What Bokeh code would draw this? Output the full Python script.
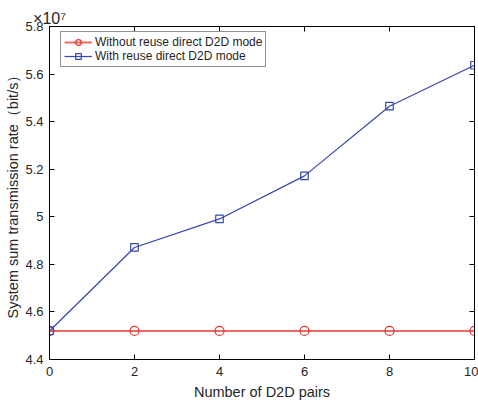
from bokeh.plotting import figure
from bokeh.models import (LinearAxis, FixedTicker, CustomJSTickFormatter, Range1d, Legend, LegendItem)
from bokeh.embed import file_html
from bokeh.resources import INLINE

pairs = [0, 2, 4, 6, 8, 10]
without_reuse = [4.52, 4.52, 4.52, 4.52, 4.52, 4.52]
with_reuse = [4.52, 4.871, 4.991, 5.172, 5.465, 5.637]
x_ticks = [0, 2, 4, 6, 8, 10]
y_ticks = [4.4, 4.6, 4.8, 5.0, 5.2, 5.4, 5.6, 5.8]
exponent_text = "\u00d710\u2077"

FONT = "Liberation Sans"
TXT = "#262626"

p = figure(frame_width=425, frame_height=333, output_backend="svg", toolbar_location=None,
           x_range=Range1d(0, 10), y_range=Range1d(4.4, 5.8),
           min_border_left=49, min_border_right=4, min_border_top=26, min_border_bottom=41)
p.grid.visible = False
p.outline_line_color = "black"
p.outline_line_width = 1

fmt = CustomJSTickFormatter(code="var s = tick.toFixed(1); return s.replace(/\\.0$/, '');")
blank = CustomJSTickFormatter(code="return '';")

for ax in (p.xaxis[0], p.yaxis[0]):
    ax.major_tick_in = 5
    ax.major_tick_out = 0
    ax.minor_tick_line_color = None
    ax.axis_line_color = "black"
    ax.major_tick_line_color = "black"
    ax.major_label_text_font = FONT
    ax.major_label_text_font_size = "13px"
    ax.major_label_text_color = TXT
    ax.axis_label_text_font = FONT
    ax.axis_label_text_font_size = "14.5px"
    ax.axis_label_text_font_style = "normal"
    ax.axis_label_text_color = TXT

p.xaxis[0].ticker = FixedTicker(ticks=x_ticks)
p.yaxis[0].ticker = FixedTicker(ticks=y_ticks)
p.yaxis[0].formatter = fmt
p.xaxis[0].axis_label = "Number of D2D pairs"
p.yaxis[0].axis_label = "System sum transmission rate\uff08bit/s\uff09"
p.xaxis[0].major_label_standoff = 7
p.xaxis[0].axis_label_standoff = 5
p.yaxis[0].major_label_standoff = 6
p.yaxis[0].axis_label_standoff = 1

top = LinearAxis(ticker=FixedTicker(ticks=x_ticks), formatter=blank, major_tick_in=5, major_tick_out=0,
                 minor_tick_line_color=None, major_label_standoff=0, axis_line_color="black",
                 axis_label=exponent_text, axis_label_align="start", axis_label_standoff=0,
                 axis_label_text_align="left",
                 axis_label_text_font=FONT, axis_label_text_font_size="16px",
                 axis_label_text_font_style="normal", axis_label_text_color=TXT)
right = LinearAxis(ticker=FixedTicker(ticks=y_ticks), formatter=blank, major_tick_in=5, major_tick_out=0,
                   minor_tick_line_color=None, major_label_standoff=0, axis_line_color="black")
p.add_layout(top, "above")
p.add_layout(right, "right")

r1l = p.line(pairs, without_reuse, line_color="#ec6a64", line_width=2)
r1m = p.scatter(pairs, without_reuse, marker="circle", size=9, fill_color=None,
                line_color="#e8332a", line_width=1.2)
r2l = p.line(pairs, with_reuse, line_color="#3346b0", line_width=1.2)
r2m = p.scatter(pairs, with_reuse, marker="square", size=7.5, fill_color=None,
                line_color="#3346b0", line_width=1.2)

legend = Legend(items=[LegendItem(label="Without reuse direct D2D mode", renderers=[r1l, r1m]),
                       LegendItem(label="With reuse direct D2D mode", renderers=[r2l, r2m])],
                location=(11, 292))
legend.label_text_font = FONT
legend.label_text_font_size = "12px"
legend.label_text_color = TXT
legend.border_line_color = "#262626"
legend.border_line_width = 1
legend.glyph_width = 28
legend.glyph_height = 14
legend.label_height = 14
legend.label_standoff = 3
legend.spacing = 0
legend.padding = 3
legend.margin = 0
p.add_layout(legend)

open("out.html", "w").write(file_html(p, INLINE))
